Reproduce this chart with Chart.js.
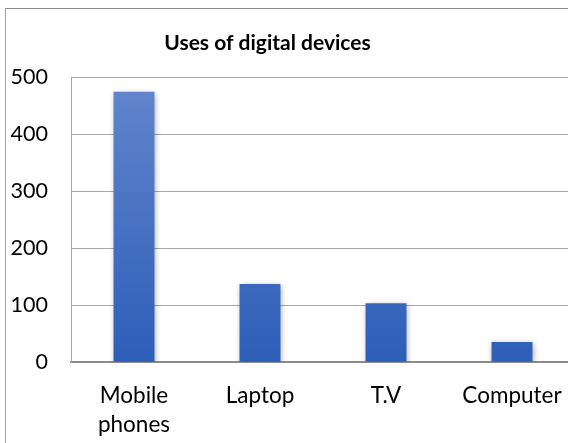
<!DOCTYPE html>
<html>
<head>
<meta charset="utf-8">
<script src="https://cdn.jsdelivr.net/npm/chart.js@4/dist/chart.umd.min.js"></script>
<style>
  html, body { margin: 0; padding: 0; background: #fff; overflow: hidden; width: 568px; height: 443px; }
  #frame { position: absolute; left: 5px; top: 8px; width: 700px; height: 600px;
           border-left: 1px solid #a6a6a6; border-top: 1px solid #8c8c8c; box-sizing: border-box; }
  #wrap { position: absolute; left: 0; top: 0; width: 600px; height: 443px; }
</style>
</head>
<body>
<div id="frame"></div>
<div id="wrap"><canvas id="c" width="600" height="443"></canvas></div>
<script>
const categories = [["Mobile", "phones"], "Laptop", "T.V", "Computer"];
const usesValues = [474, 137, 103, 35];
const yTicks = [0, 100, 200, 300, 400, 500];
const chartTitle = "Uses of digital devices";

const FONT = "Lato, 'Open Sans', sans-serif";

const shadowPlugin = {
  id: 'barShadow',
  beforeDatasetsDraw(chart) {
    const ctx = chart.ctx;
    ctx.save();
    ctx.shadowColor = 'rgba(0,0,0,0.35)';
    ctx.shadowBlur = 6;
    ctx.shadowOffsetX = 1;
    ctx.shadowOffsetY = 2;
  },
  afterDatasetsDraw(chart) {
    chart.ctx.restore();
  }
};

const titlePlace = {
  id: 'titlePlace',
  afterLayout(chart) {
    const t = chart.titleBlock;
    if (t) { t.left = 0; t.right = 535; t.width = 535; }
  }
};

new Chart(document.getElementById('c'), {
  type: 'bar',
  data: {
    labels: categories,
    datasets: [{
      label: 'Uses',
      data: usesValues,
      backgroundColor(ctx) {
        const ca = ctx.chart.chartArea;
        if (!ca) return '#3f6cc4';
        const g = ctx.chart.ctx.createLinearGradient(0, ca.top, 0, ca.bottom);
        g.addColorStop(0, '#6486cc');
        g.addColorStop(1, '#2d5eb8');
        return g;
      },
      borderWidth: 0,
      categoryPercentage: 1,
      barPercentage: 0.325
    }]
  },
  options: {
    responsive: false,
    animation: false,
    devicePixelRatio: 1,
    layout: { padding: { left: 0, right: 25, top: 0, bottom: 0 } },
    plugins: {
      legend: { display: false },
      tooltip: { enabled: false },
      title: {
        display: true,
        text: chartTitle,
        color: '#000',
        font: { family: FONT, size: 21, weight: 'bold', lineHeight: 1.2 },
        padding: { top: 31, bottom: 20.8 }
      }
    },
    scales: {
      x: {
        grid: { display: false, drawTicks: false },
        border: { display: true, color: '#8c8c8c', width: 2 },
        ticks: {
          color: '#000',
          font: { family: FONT, size: 22.5, lineHeight: 1.3 },
          padding: 19,
          maxRotation: 0,
          autoSkip: false
        },
        afterFit(scale) { scale.height = 81; }
      },
      y: {
        min: 0, max: 500,
        afterBuildTicks(scale) { scale.ticks = yTicks.map(v => ({ value: v })); },
        grid: { color: '#a6a6a6', lineWidth: 1, drawTicks: false },
        border: { display: true, color: '#a6a6a6', width: 1 },
        ticks: {
          color: '#000',
          font: { family: FONT, size: 21.5 },
          padding: 23
        },
        afterFit(scale) { scale.width = 71; }
      }
    }
  },
  plugins: [shadowPlugin, titlePlace]
});
</script>
</body>
</html>
